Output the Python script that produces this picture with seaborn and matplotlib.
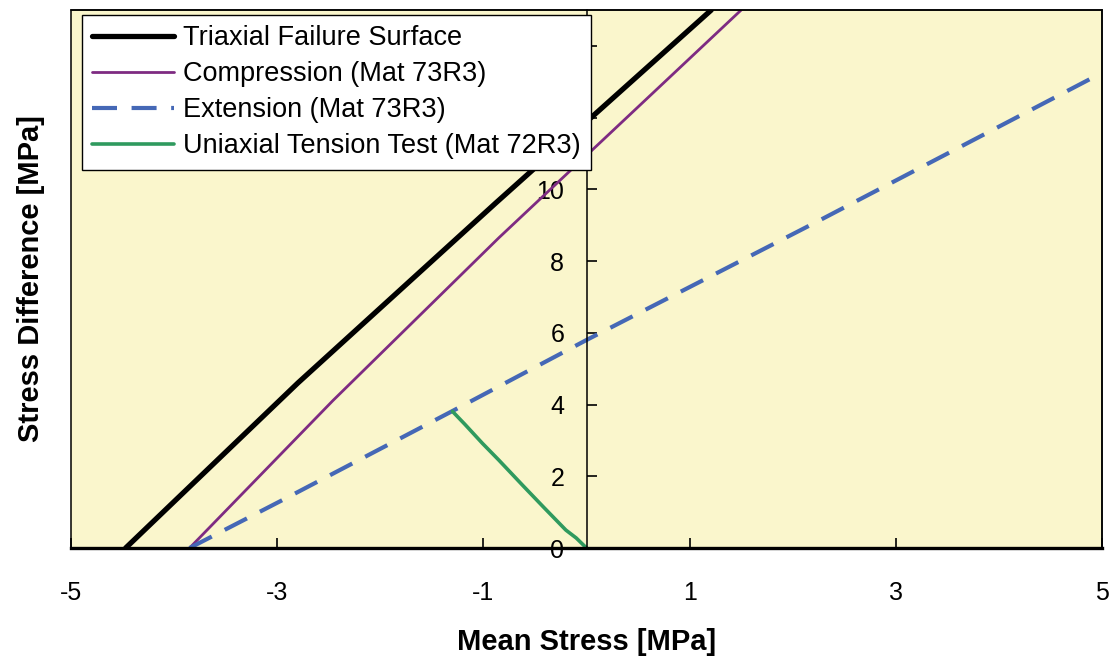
import matplotlib
matplotlib.use("Agg")
import matplotlib.pyplot as plt
import seaborn as sns
from matplotlib.patches import Rectangle

# values (MPa)
failure_x = [-4.47, -2.80, -0.88, 1.21]
failure_y = [0.0, 4.60, 9.62, 15.0]

compression_x = [-3.85, -2.46, -0.85, 1.50]
compression_y = [0.0, 4.11, 8.65, 15.0]

extension_x = [-3.85, -2.92, -1.30, 0.0, 2.25, 5.0]
extension_y = [0.0, 1.38, 3.82, 5.80, 9.12, 13.25]

tension_x = [-1.30, -1.18, -1.01, -0.85, -0.62, -0.42, -0.20, -0.10, 0.0]
tension_y = [3.81, 3.45, 2.92, 2.45, 1.75, 1.15, 0.50, 0.28, 0.0]

x_ticks = [-5, -3, -1, 1, 3, 5]
y_ticks = [0, 2, 4, 6, 8, 10, 12, 14]
# 12 and 14 sit behind the legend in the original
y_tick_labels = ["0", "2", "4", "6", "8", "10", "", ""]

sns.set_style("white")
plt.rcParams["font.family"] = ["Liberation Sans", "DejaVu Sans"]
plt.rcParams["axes.unicode_minus"] = False
plt.rcParams["text.color"] = "black"
plt.rcParams["axes.labelcolor"] = "black"

fig = plt.figure(figsize=(11.16, 6.59), dpi=100)
ax = fig.add_axes([0.0636, 0.1684, 0.9239, 0.8164])
ax.set_facecolor("#FAF6CC")

sns.lineplot(x=failure_x, y=failure_y, sort=False, estimator=None, ax=ax,
             color="black", linewidth=3.8, label="Triaxial Failure Surface")
sns.lineplot(x=compression_x, y=compression_y, sort=False, estimator=None, ax=ax,
             color="#7E2B82", linewidth=2.0, label="Compression (Mat 73R3)")
sns.lineplot(x=extension_x, y=extension_y, sort=False, estimator=None, ax=ax,
             color="#4568B6", linewidth=3.0, linestyle=(0, (6, 3.5)),
             label="Extension (Mat 73R3)")
sns.lineplot(x=tension_x, y=tension_y, sort=False, estimator=None, ax=ax,
             color="#2F9A5E", linewidth=2.6, label="Uniaxial Tension Test (Mat 72R3)")

ax.set_xlim(-5, 5)
ax.set_ylim(0, 15)
ax.set_xticks(x_ticks)
ax.set_yticks(y_ticks)
ax.set_yticklabels(y_tick_labels)

# y axis sits at x = 0, frame drawn around the plot area
ax.spines["left"].set_position(("data", 0))
ax.spines["left"].set_linewidth(1.1)
ax.spines["bottom"].set_linewidth(2.4)
for side in ["top", "right"]:
    ax.spines[side].set_visible(True)
    ax.spines[side].set_linewidth(1.1)
    ax.spines[side].set_color("black")
ax.spines["left"].set_color("black")
ax.spines["bottom"].set_color("black")
ax.add_patch(Rectangle((0, 0), 1, 1, transform=ax.transAxes, fill=False,
                       edgecolor="black", linewidth=1.1, zorder=3, clip_on=False))

ax.tick_params(axis="x", direction="in", length=7, width=1.2, pad=24,
               labelsize=18, bottom=True, colors="black")
ax.tick_params(axis="y", direction="in", length=7, width=1.2, pad=16,
               labelsize=18, left=True, colors="black")

ax.set_xlabel("Mean Stress [MPa]", fontsize=21, fontweight="bold")
ax.set_ylabel("Stress Difference [MPa]", fontsize=21, fontweight="bold")
ax.xaxis.set_label_coords(0.5, -0.148)
ax.yaxis.set_label_coords(-0.025, 0.5)

leg = ax.legend(loc="upper left", bbox_to_anchor=(0.0107, 0.9907),
                borderaxespad=0, fontsize=19.5, frameon=True, fancybox=False,
                framealpha=1, edgecolor="black", handlelength=3.0,
                handletextpad=0.35, labelspacing=0.37, borderpad=0.38)
leg.get_frame().set_linewidth(1.0)
leg.set_zorder(10)

fig.savefig("out.png", dpi=100, facecolor="white")
plt.close(fig)
